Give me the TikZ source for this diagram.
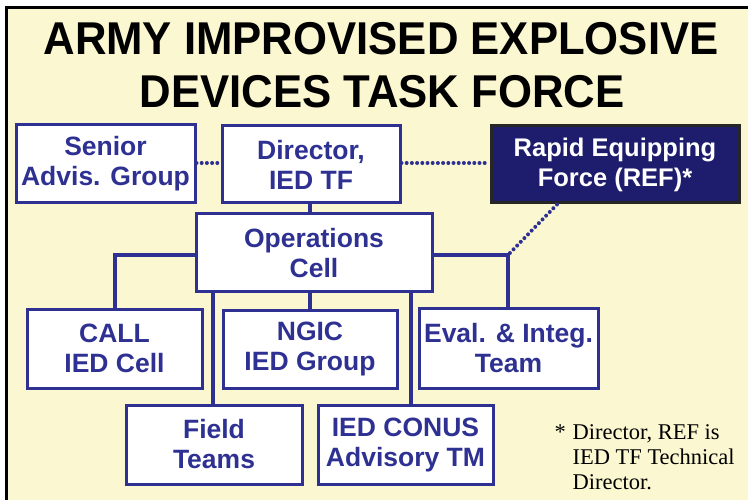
\documentclass[tikz,border=0pt]{standalone}
\usepackage{fontspec}
\setmainfont{Liberation Sans}
\newfontfamily\serifft{Liberation Serif}
\definecolor{navy}{RGB}{46,49,146}
\definecolor{navyfill}{RGB}{30,28,108}
\definecolor{paper}{RGB}{251,247,208}
\begin{document}
\begin{tikzpicture}[x=1pt,y=-1pt,
  orgbox/.style={draw=navy,line width=3pt,fill=white,text=navy,inner sep=0pt,
    align=center,font=\bfseries\fontsize{26.5}{30}\selectfont},
  refbox/.style={draw=black!85,line width=3pt,fill=navyfill,text=white,inner sep=0pt,
    align=center,font=\bfseries\fontsize{25.5}{30}\selectfont},
  link/.style={draw=navy,line width=3.8pt},
  dotlink/.style={draw=navy,line width=4pt,line cap=round,dash pattern=on 0pt off 5.2pt},
  titletext/.style={font=\bfseries\fontsize{46}{52}\selectfont,anchor=base},
  notetext/.style={font=\serifft\fontsize{22.5}{25}\selectfont,anchor=base west}]
\useasboundingbox (0,0) rectangle (748,500);
\fill[white] (0,0) rectangle (748,500);
\fill[paper] (6,8) rectangle (748,500);
\draw[black,line width=3pt] (6,500) -- (6,8) -- (748,8);

\node[titletext] (t1) at (381,55) {\scalebox{0.95}[1]{ARMY IMPROVISED EXPLOSIVE}};
\node[titletext] (t2) at (382,108) {\scalebox{0.95}[1]{DEVICES TASK FORCE}};

\node[orgbox,minimum width=179pt,minimum height=78pt] (senior) at (105.5,164) {Senior\\Advis. Group};
\node[orgbox,minimum width=178pt,minimum height=77pt] (dir) at (311,164.5) {Director,\\IED TF};
\node[refbox,minimum width=248pt,minimum height=77pt] (ref) at (615,164.5) {Rapid Equipping\\Force (REF)*};
\node[orgbox,minimum width=236pt,minimum height=78pt] (ops) at (314,253) {Operations\\Cell};
\node[orgbox,minimum width=175pt,minimum height=79pt] (call) at (114.5,348.5) {CALL\\IED Cell};
\node[orgbox,minimum width=174pt,minimum height=78pt] (ngic) at (310,349) {NGIC\\IED Group};
\node[orgbox,minimum width=179pt,minimum height=80pt] (eval) at (508.5,348) {Eval. \& Integ.\\Team};
\node[orgbox,minimum width=176pt,minimum height=79pt] (field) at (214,444.5) {Field\\Teams};
\node[orgbox,minimum width=175pt,minimum height=79pt] (conus) at (405.5,444.5) {IED CONUS\\Advisory TM};

\coordinate (lc) at (115,255);
\coordinate (rc) at (508,255);

\draw[link] (dir.south -| 310,0) -- (ops.north -| 310,0);
\draw[link] (ops.west |- lc) -- (lc) -- (call.north -| lc);
\draw[link] (ops.east |- rc) -- (rc) -- (eval.north -| rc);
\draw[link] (ops.south -| 310,0) -- (ngic.north -| 310,0);
\draw[link] (ops.south -| 213,0) -- (field.north -| 213,0);
\draw[link] (ops.south -| 411,0) -- (conus.north -| 411,0);

\draw[dotlink] (senior.east |- 0,163) -- (dir.west |- 0,163);
\draw[dotlink] (dir.east |- 0,163) -- (ref.west |- 0,163);
\draw[dotlink] (ref.south -| 557,0) -- (rc);

\node[notetext] (n0) at (551,439) {*};
\node[notetext] (n1) at (569,439) {Director, REF is};
\node[notetext] (n2) at (569,464) {IED TF Technical};
\node[notetext] (n3) at (569,489) {Director.};
\end{tikzpicture}
\end{document}
